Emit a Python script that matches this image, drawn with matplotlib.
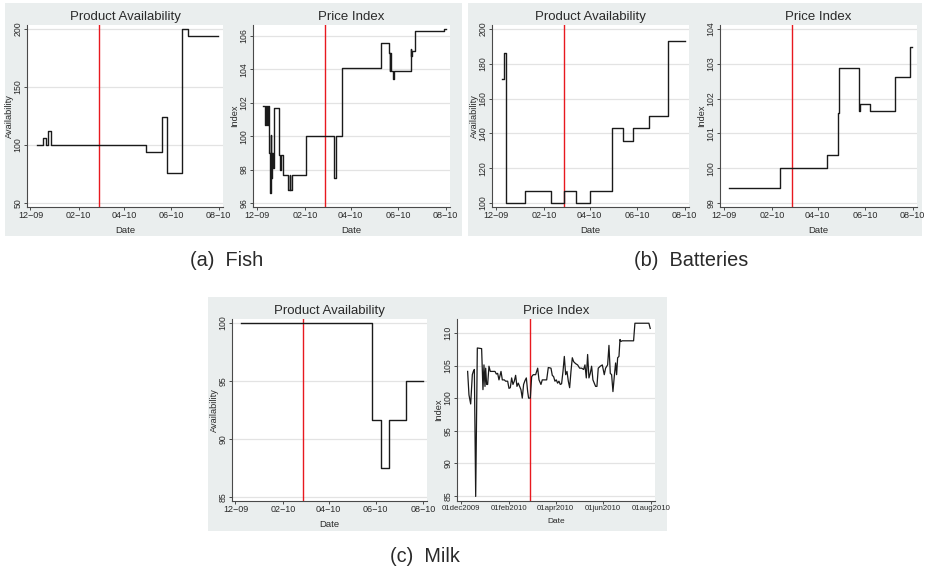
import numpy as np
import matplotlib
matplotlib.use("Agg")
import matplotlib.pyplot as plt
from matplotlib.patches import Rectangle

plt.rcParams['font.family'] = ['Liberation Sans', 'DejaVu Sans']

# ---------------------------------------------------------------- style
W, H = 927, 570
PANEL = "#EAEEEE"   # graph region (Stata-like)
GRID = "#E3E3E3"
AXIS = "#4A4A4A"
TXT = "#2A2A2A"
LINE = "#1A1A1A"
RED = "#E8191F"

# x values are days since 1 Dec 2009
QUAKE_DAY = 88      # 27 Feb 2010
TICK_DAYS = [0, 62, 121, 182, 243]
TICK_LABELS = ["12\u221209", "02\u221210", "04\u221210", "06\u221210", "08\u221210"]
MILK_TICK_LABELS = ["01dec2009", "01feb2010", "01apr2010", "01jun2010", "01aug2010"]

# ---------------------------------------------------------------- data
fish_avail_day = [8, 16, 20, 23, 27, 149, 170, 176, 195, 203, 242]
fish_avail_val = [100, 106, 100, 112, 100, 94, 124, 76, 200, 194, 194]

fish_price_day = [8, 11, 12.5, 14, 15, 16, 17, 18, 19, 20, 21, 22.5, 28.5, 30.5,
                  32, 34, 41, 42.5, 43, 46, 64, 99, 102, 110, 160, 170, 171,
                  172, 173, 175, 176, 198, 199, 200, 204, 241, 243]
fish_price_val = [101.8, 100.7, 101.8, 100.7, 101.8, 99.0, 96.6, 100.1, 97.5,
                  99.0, 98.1, 101.7, 98.9, 98.0, 98.9, 97.7, 96.8, 97.7, 96.8,
                  97.7, 100.0, 97.5, 100.0, 104.1, 105.6, 105.0, 103.9, 105.0,
                  103.9, 103.4, 103.9, 105.2, 104.8, 105.1, 106.3, 106.45, 106.45]

batt_avail_day = [8, 11, 14, 38, 71, 88, 104, 121, 150, 164, 176, 197, 221, 243]
batt_avail_val = [171.5, 186, 100, 106.7, 100, 106.7, 100, 106.7, 143.1, 135.6,
                  143.1, 150, 193, 193]

batt_price_day = [7, 73, 133, 147, 148, 174, 175, 188, 220, 240, 242]
batt_price_val = [99.43, 100, 100.37, 101.6, 102.87, 101.65, 101.84, 101.64,
                  102.63, 103.48, 103.48]

milk_avail_day = [7, 177, 189, 199, 221, 243]
milk_avail_val = [100, 91.67, 87.5, 91.67, 95.0, 95.0]

milk_price_day = [8.5, 10.2, 12.4, 14.5, 15.8, 17.1, 18.8, 20.9, 26.4, 28.1, 29.4,
                  30.7, 31.6, 32.8, 34.1, 35.8, 37.5, 43.5, 45.2, 46.9, 48.6, 51.2,
                  52.9, 55.4, 57.1, 59.7, 61.4, 63.1, 64.8, 66.5, 68.2, 69.9, 71.6,
                  73.3, 75.0, 76.7, 78.4, 80.1, 81.9, 83.6, 85.3, 86.5, 88.7, 90.4,
                  92.5, 95.5, 98.1, 99.8, 102.3, 104.0, 106.6, 109.6, 111.7, 115.1,
                  116.8, 118.5, 120.2, 121.9, 123.6, 125.3, 127.0, 128.7, 130.5,
                  132.2, 133.9, 135.6, 137.3, 139.0, 140.7, 142.4, 144.1, 146.6,
                  149.2, 151.8, 154.3, 156.9, 158.6, 160.3, 162.0, 163.7, 165.4,
                  167.1, 168.8, 170.5, 172.2, 173.9, 175.6, 178.2, 180.8, 183.3,
                  185.0, 187.6, 189.3, 191.0, 192.7, 194.4, 196.1, 197.8, 199.1,
                  200.4, 202.1, 203.4, 204.6, 206.3, 220.8, 222.5, 240.4, 242.1]
milk_price_val = [104.1, 100.5, 99.1, 103.6, 104.1, 104.4, 84.9, 107.7, 107.6, 101.3,
                  105.1, 101.8, 104.6, 102.1, 102.1, 104.9, 104.1, 104.1, 103.7, 103.8,
                  102.8, 104.1, 102.8, 102.8, 102.6, 102.6, 101.5, 101.6, 103.1, 102.1,
                  102.6, 103.5, 101.8, 102.3, 101.8, 101.3, 100.0, 102.1, 102.7, 103.1,
                  101.0, 100.0, 100.0, 103.3, 103.6, 103.6, 104.6, 102.8, 102.1, 102.8,
                  102.8, 102.8, 104.7, 104.6, 103.5, 103.3, 102.6, 102.8, 102.3, 102.6,
                  102.1, 102.2, 104.1, 106.4, 103.6, 104.1, 102.6, 101.6, 104.1, 106.2,
                  105.6, 105.3, 105.1, 104.6, 104.6, 104.4, 105.1, 103.1, 106.7, 103.1,
                  103.8, 104.9, 102.8, 102.3, 101.8, 101.8, 104.6, 104.9, 105.1, 103.6,
                  104.6, 105.1, 108.1, 103.8, 103.6, 101.0, 103.3, 105.4, 103.6, 106.2,
                  106.4, 109.0, 108.7, 108.8, 108.8, 111.5, 111.5, 110.7]


def px_box(x0, y0, x1, y1):
    """pixel box (top-left origin) -> figure fraction [l, b, w, h]"""
    return [x0 / W, 1 - y1 / H, (x1 - x0) / W, (y1 - y0) / H]


def style_axes(ax, title, ylabel, yticks, ylim, xlim, xlabels, xfs=6.5, dfs=6.8):
    ax.set_facecolor("white")
    for s in ("top", "right"):
        ax.spines[s].set_visible(False)
    for s in ("left", "bottom"):
        ax.spines[s].set_color(AXIS)
        ax.spines[s].set_linewidth(0.8)
    ax.set_xlim(*xlim)
    ax.set_ylim(*ylim)
    ax.set_xticks(TICK_DAYS)
    ax.set_xticklabels(xlabels, fontsize=xfs, color=TXT)
    ax.set_yticks(yticks)
    ax.set_yticklabels([str(t) for t in yticks], fontsize=6.3, color=TXT,
                       rotation=90, va="center")
    ax.tick_params(axis="both", length=2.2, width=0.7, color=AXIS, pad=1)
    ax.grid(axis="y", color=GRID, lw=0.9)
    ax.grid(axis="x", visible=False)
    ax.set_axisbelow(True)
    ax.set_title(title, fontsize=9.5, color=TXT, pad=3.5)
    ax.set_xlabel("Date", fontsize=dfs, color=TXT, labelpad=4)
    ax.set_ylabel(ylabel, fontsize=6.6, color=TXT, labelpad=0)
    ax.axvline(QUAKE_DAY, color=RED, lw=1.0, zorder=2)


fig = plt.figure(figsize=(W / 100, H / 100), dpi=100)
fig.patch.set_facecolor("white")

# graph regions
for x0, y0, x1, y1 in [(5, 3, 462, 236), (468, 3, 922, 236), (208, 297, 667, 531)]:
    fig.patches.append(Rectangle((x0 / W, 1 - y1 / H), (x1 - x0) / W, (y1 - y0) / H,
                                 transform=fig.transFigure, facecolor=PANEL,
                                 edgecolor="none", zorder=-5))

XLIM = (-4.5, 248.5)

# (a) Fish
ax = fig.add_axes(px_box(27, 25, 223, 207))
ax.step(fish_avail_day, fish_avail_val, where="post", color=LINE, lw=1.0, zorder=3)
style_axes(ax, "Product Availability", "Availability", [50, 100, 150, 200],
           (46.6, 203.4), XLIM, TICK_LABELS)

ax = fig.add_axes(px_box(253, 25, 450, 207))
ax.step(fish_price_day, fish_price_val, where="post", color=LINE, lw=1.0, zorder=3)
style_axes(ax, "Price Index", "Index", [96, 98, 100, 102, 104, 106],
           (95.76, 106.66), XLIM, TICK_LABELS)

# (b) Batteries
ax = fig.add_axes(px_box(492, 25, 689, 207))
ax.step(batt_avail_day, batt_avail_val, where="post", color=LINE, lw=1.0, zorder=3)
style_axes(ax, "Product Availability", "Availability", [100, 120, 140, 160, 180, 200],
           (97.7, 202.3), XLIM, TICK_LABELS)

ax = fig.add_axes(px_box(720, 25, 917, 207))
ax.step(batt_price_day, batt_price_val, where="post", color=LINE, lw=1.0, zorder=3)
style_axes(ax, "Price Index", "Index", [99, 100, 101, 102, 103, 104],
           (98.885, 104.115), XLIM, TICK_LABELS)

# (c) Milk
ax = fig.add_axes(px_box(232, 319, 427, 501))
ax.step(milk_avail_day, milk_avail_val, where="post", color=LINE, lw=1.0, zorder=3)
style_axes(ax, "Product Availability", "Availability", [85, 90, 95, 100],
           (84.66, 100.34), XLIM, TICK_LABELS)

ax = fig.add_axes(px_box(457, 319, 655, 501))
ax.plot(milk_price_day, milk_price_val, color=LINE, lw=0.9, zorder=3)
style_axes(ax, "Price Index", "Index", [85, 90, 95, 100, 105, 110],
           (84.2, 112.15), (-5.1, 248.2), MILK_TICK_LABELS, xfs=5.6, dfs=6.0)

# captions
for x, y, s in [(227, 261, "(a)  Fish"), (691, 261, "(b)  Batteries"), (425, 556, "(c)  Milk")]:
    fig.text(x / W, 1 - y / H, s, fontsize=14.3, color=TXT, ha="center", va="center")

fig.savefig("out.png", dpi=100)
